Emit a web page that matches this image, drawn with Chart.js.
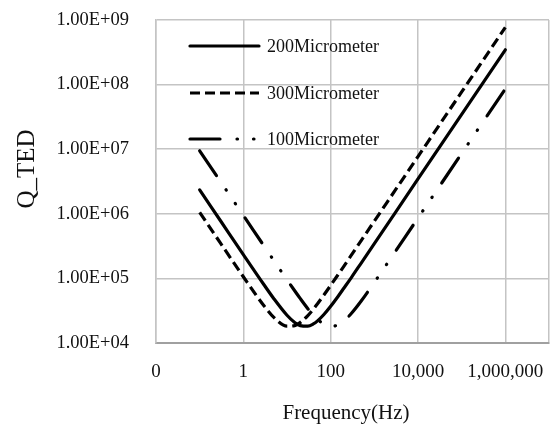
<!DOCTYPE html>
<html>
<head>
<meta charset="utf-8">
<script src="https://cdn.jsdelivr.net/npm/chart.js@4.4.1/dist/chart.umd.min.js"></script>
<style>
  html, body { margin: 0; padding: 0; background: #ffffff; }
  #wrap { width: 552px; height: 436px; position: relative; }
</style>
</head>
<body>
<div id="wrap"><canvas id="c" width="552" height="436"></canvas></div>
<script>
// ---- data ----
const frequencies = [0.1, 0.3, 1, 3, 5, 10, 15, 20, 30, 40, 50, 70, 100, 150, 200, 300, 500, 1000, 10000, 100000, 1000000];
const q200 = [2.34e6, 7.8e5, 2.34e5, 7.9e4, 4.85e4, 2.69e4, 2.08e4, 1.86e4, 1.82e4, 1.97e4, 2.2e4, 2.76e4, 3.7e4, 5.35e4, 7.04e4, 1.04e5, 1.73e5, 3.46e5, 3.46e6, 3.46e7, 3.46e8];
const q300 = [1.05e6, 3.51e5, 1.06e5, 3.74e4, 2.49e4, 1.82e4, 1.86e4, 2.07e4, 2.66e4, 3.34e4, 4.05e4, 5.53e4, 7.8e4, 1.16e5, 1.54e5, 2.31e5, 3.85e5, 7.7e5, 7.7e6, 7.7e7, 7.7e8];
const q100 = [9.45e6, 3.15e6, 9.45e5, 3.15e5, 1.89e5, 9.5e4, 6.43e4, 4.9e4, 3.4e4, 2.7e4, 2.32e4, 1.95e4, 1.8e4, 1.92e4, 2.19e4, 2.89e4, 4.47e4, 8.7e4, 8.6e5, 8.6e6, 8.6e7];
const seriesNames = ['200Micrometer', '300Micrometer', '100Micrometer'];
const xTickValues = [0.01, 1, 100, 10000, 1000000, 10000000];
const xTickLabels = ['0', '1', '100', '10,000', '1,000,000', ''];
const yTickValues = [1e4, 1e5, 1e6, 1e7, 1e8, 1e9];
const yTickLabels = ['1.00E+04', '1.00E+05', '1.00E+06', '1.00E+07', '1.00E+08', '1.00E+09'];
const xTitle = 'Frequency(Hz)';
const yTitle = 'Q_TED';

const SERIF = "'Liberation Serif', 'Times New Roman', serif";
const toPts = arr => arr.map((v, i) => ({ x: frequencies[i], y: v }));

const styles = [
  { borderDash: [], cap: 'round' },
  { borderDash: [10, 5], cap: 'butt' },
  { borderDash: [30, 17, 0.5, 16, 0.5, 17], cap: 'round' }
];
const values = [q200, q300, q100];

const datasets = values.map((arr, i) => ({
  label: seriesNames[i],
  data: toPts(arr),
  borderColor: '#000000',
  backgroundColor: '#000000',
  borderWidth: 3.2,
  borderDash: styles[i].borderDash,
  borderCapStyle: styles[i].cap,
  pointRadius: 0,
  fill: false,
  cubicInterpolationMode: 'monotone'
}));

// plot frame (pixels) as in the reference
const AREA = { left: 156, top: 20, right: 549, bottom: 343 };

const fixArea = {
  id: 'fixArea',
  afterLayout(chart) {
    const W = chart.width, H = chart.height;
    const ca = chart.chartArea;
    ca.left = AREA.left; ca.top = AREA.top; ca.right = AREA.right; ca.bottom = AREA.bottom;
    ca.width = AREA.right - AREA.left; ca.height = AREA.bottom - AREA.top;
    const x = chart.scales.x, y = chart.scales.y;
    x.left = AREA.left; x.right = AREA.right; x.top = AREA.bottom; x.bottom = H;
    x.width = AREA.right - AREA.left; x.height = H - AREA.bottom;
    y.left = 0; y.right = AREA.left; y.top = AREA.top; y.bottom = AREA.bottom;
    y.width = AREA.left; y.height = AREA.bottom - AREA.top;
    x.configure(); y.configure();
  }
};

const decor = {
  id: 'decor',
  afterDraw(chart) {
    const ctx = chart.ctx;
    ctx.save();
    const rowsY = [46, 93, 139];
    chart.data.datasets.forEach((ds, i) => {
      const y = rowsY[i];
      ctx.beginPath();
      ctx.setLineDash(ds.borderDash || []);
      ctx.lineCap = ds.borderCapStyle;
      ctx.lineWidth = ds.borderWidth;
      ctx.strokeStyle = ds.borderColor;
      ctx.moveTo(190, y);
      ctx.lineTo(259, y);
      ctx.stroke();
      ctx.setLineDash([]);
      ctx.fillStyle = '#111111';
      ctx.font = '18px ' + SERIF;
      ctx.textAlign = 'left';
      ctx.textBaseline = 'middle';
      ctx.fillText(ds.label, 267, y + 1);
    });
    ctx.fillStyle = '#111111';
    ctx.font = '21px ' + SERIF;
    ctx.textAlign = 'center';
    ctx.textBaseline = 'middle';
    ctx.fillText(xTitle, 346, 413);
    ctx.translate(27, 169);
    ctx.rotate(-Math.PI / 2);
    ctx.font = '25px ' + SERIF;
    ctx.fillText(yTitle, 0, 0);
    ctx.restore();
  }
};

new Chart(document.getElementById('c'), {
  type: 'line',
  data: { datasets },
  options: {
    responsive: false,
    animation: false,
    layout: { padding: { top: 20, right: 3, left: 0, bottom: 0 } },
    plugins: { legend: { display: false }, tooltip: { enabled: false } },
    scales: {
      x: {
        type: 'logarithmic',
        min: 0.01,
        max: 1e7,
        afterBuildTicks: s => { s.ticks = xTickValues.map(v => ({ value: v })); },
        ticks: {
          autoSkip: false,
          maxRotation: 0,
          padding: 18,
          color: '#111111',
          font: { family: SERIF, size: 19 },
          callback: (v, i) => xTickLabels[i]
        },
        grid: { color: '#c4c4c4', lineWidth: 1.5, drawTicks: false },
        border: { color: '#a0a0a0', width: 2 }
      },
      y: {
        type: 'logarithmic',
        min: 1e4,
        max: 1e9,
        afterBuildTicks: s => { s.ticks = yTickValues.map(v => ({ value: v })); },
        ticks: {
          autoSkip: false,
          padding: 27,
          color: '#111111',
          font: { family: SERIF, size: 18.5 },
          callback: (v, i) => yTickLabels[i]
        },
        grid: { color: '#c4c4c4', lineWidth: 1.5, drawTicks: false },
        border: { color: '#c4c4c4', width: 1.5 }
      }
    }
  },
  plugins: [fixArea, decor]
});
</script>
</body>
</html>
